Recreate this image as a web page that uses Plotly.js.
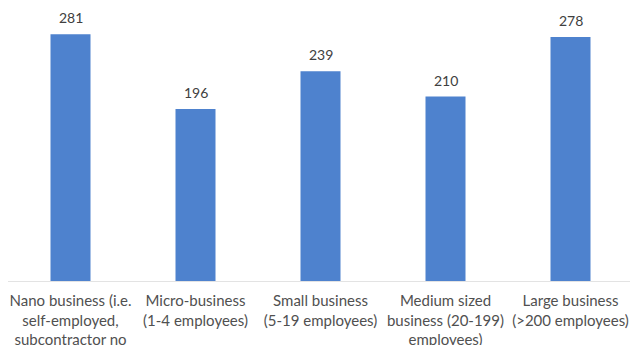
<!DOCTYPE html>
<html>
<head>
<meta charset="utf-8">
<script src="https://cdn.plot.ly/plotly-3.0.1.min.js"></script>
<style>html,body{margin:0;padding:0;background:#fff;}#chart{width:630px;height:345px;}</style>
</head>
<body>
<div id="chart"></div>
<script>
const categories = [
  "Nano business (i.e.<br>self-employed,<br>subcontractor no",
  "Micro-business<br>(1-4 employees)",
  "Small business<br>(5-19 employees)",
  "Medium sized<br>business (20-199)<br>employees)",
  "Large business<br>(>200 employees)"
];
const values = [281, 196, 239, 210, 278];

const FONT = "Lato, 'Open Sans', sans-serif";

const trace = {
  type: "bar",
  x: categories,
  y: values,
  cliponaxis: false,
  marker: {color: "#4E82CE", line: {width: 0}},
  hoverinfo: "none"
};

const annotations = categories.map((c, i) => ({
  x: c,
  y: values[i],
  xref: "x",
  yref: "y",
  text: String(values[i]),
  showarrow: false,
  yanchor: "bottom",
  yshift: 6,
  font: {family: FONT, size: 14, color: "#404040"}
}));

const layout = {
  width: 630,
  height: 345,
  margin: {l: 8, r: 0, t: 0, b: 64},
  paper_bgcolor: "#ffffff",
  plot_bgcolor: "#ffffff",
  bargap: 0.68,
  showlegend: false,
  font: {family: FONT, size: 15, color: "#505050"},
  annotations: annotations,
  xaxis: {
    range: [-0.5, 4.476],
    showline: true,
    linecolor: "#e3e3e3",
    linewidth: 1,
    ticks: "",
    ticklabelstandoff: 6,
    tickfont: {family: FONT, size: 15, color: "#505050"},
    tickangle: 0,
    automargin: false
  },
  yaxis: {
    range: [0, 320],
    showgrid: false,
    zeroline: false,
    showticklabels: false,
    showline: false,
    ticks: ""
  }
};

Plotly.newPlot("chart", [trace], layout, {displayModeBar: false, staticPlot: true});
</script>
</body>
</html>
